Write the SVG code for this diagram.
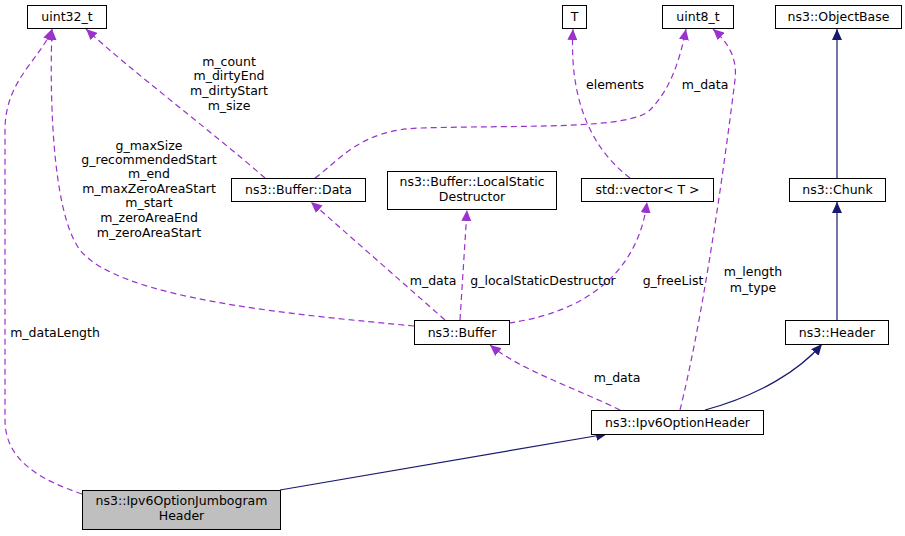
<svg xmlns="http://www.w3.org/2000/svg" width="905" height="536" viewBox="0 0 905 536">
<style>
text{font-family:"DejaVu Sans",sans-serif;font-size:12.5px;fill:#000}
.n{fill:#fff;stroke:#000;stroke-width:1}
.g{fill:#bfbfbf;stroke:#000;stroke-width:1}
.s{fill:none;stroke:#191970;stroke-width:1.2}
.d{fill:none;stroke:#9a32cd;stroke-width:1.2;stroke-dasharray:6,4}
</style>
<defs>
<marker id="an" markerWidth="12" markerHeight="10" refX="11" refY="5" orient="auto" markerUnits="userSpaceOnUse"><path d="M0,0L11,5L0,10z" fill="#191970"/></marker>
<marker id="ap" markerWidth="12" markerHeight="10" refX="11" refY="5" orient="auto" markerUnits="userSpaceOnUse"><path d="M0,0L11,5L0,10z" fill="#9a32cd"/></marker>
</defs>
<g id="edges">
<path class="s" marker-end="url(#an)" d="M280,490L607,434"/>
<path class="s" marker-end="url(#an)" d="M705,410C760,395 800,370 822,344"/>
<path class="s" marker-end="url(#an)" d="M837,320L837,202"/>
<path class="s" marker-end="url(#an)" d="M837,178L837,29"/>
<path class="d" marker-end="url(#ap)" d="M82,494C40,480 5,460 5,420L5,130C5,80 40,60 52,29"/>
<path class="d" marker-end="url(#ap)" d="M414,326C300,315 120,300 80,250C50,210 50,80 52,29"/>
<path class="d" marker-end="url(#ap)" d="M265,178C210,130 130,70 86,29"/>
<path class="d" marker-end="url(#ap)" d="M315,178C340,160 360,130 420,128C520,125 630,130 650,110C670,90 680,60 686,29"/>
<path class="d" marker-end="url(#ap)" d="M445,320L311,202"/>
<path class="d" marker-end="url(#ap)" d="M460,320L467,210"/>
<path class="d" marker-end="url(#ap)" d="M509,323C600,310 640,260 647,202"/>
<path class="d" marker-end="url(#ap)" d="M630,178C580,140 570,80 573,29"/>
<path class="d" marker-end="url(#ap)" d="M620,410C580,390 520,370 490,345"/>
<path class="d" marker-end="url(#ap)" d="M680,410C700,330 720,200 735,80C738,55 725,40 713,29"/>
<text x="55" y="337" text-anchor="middle">m_dataLength</text>
<text x="149" y="150" text-anchor="middle">g_maxSize</text>
<text x="149" y="164" text-anchor="middle">g_recommendedStart</text>
<text x="149" y="178" text-anchor="middle">m_end</text>
<text x="149" y="193" text-anchor="middle">m_maxZeroAreaStart</text>
<text x="149" y="207" text-anchor="middle">m_start</text>
<text x="149" y="222" text-anchor="middle">m_zeroAreaEnd</text>
<text x="149" y="237" text-anchor="middle">m_zeroAreaStart</text>
<text x="229" y="66" text-anchor="middle">m_count</text>
<text x="229" y="80" text-anchor="middle">m_dirtyEnd</text>
<text x="229" y="95" text-anchor="middle">m_dirtyStart</text>
<text x="229" y="110" text-anchor="middle">m_size</text>
<text x="705" y="89" text-anchor="middle">m_data</text>
<text x="615" y="89" text-anchor="middle">elements</text>
<text x="433" y="285" text-anchor="middle">m_data</text>
<text x="543" y="285" text-anchor="middle">g_localStaticDestructor</text>
<text x="673" y="285" text-anchor="middle">g_freeList</text>
<text x="617" y="382" text-anchor="middle">m_data</text>
<text x="753" y="276" text-anchor="middle">m_length</text>
<text x="753" y="292" text-anchor="middle">m_type</text>
</g>
<g id="uint32"><rect class="n" x="27.5" y="5.5" width="79" height="23"/><text x="67" y="21" text-anchor="middle">uint32_t</text></g>
<g id="T"><rect class="n" x="562.5" y="5.5" width="24" height="23"/><text x="574.5" y="21" text-anchor="middle">T</text></g>
<g id="uint8"><rect class="n" x="662.5" y="5.5" width="71" height="23"/><text x="698" y="21" text-anchor="middle">uint8_t</text></g>
<g id="objectbase"><rect class="n" x="775.5" y="5.5" width="126" height="23"/><text x="838.5" y="21" text-anchor="middle">ns3::ObjectBase</text></g>
<g id="data"><rect class="n" x="231.5" y="178.5" width="134" height="23"/><text x="298.5" y="194" text-anchor="middle">ns3::Buffer::Data</text></g>
<g id="lsd"><rect class="n" x="387.5" y="171.5" width="169" height="38"/><text x="472" y="186" text-anchor="middle">ns3::Buffer::LocalStatic</text><text x="472" y="201" text-anchor="middle">Destructor</text></g>
<g id="vector"><rect class="n" x="581.5" y="178.5" width="132" height="23"/><text x="647.5" y="194" text-anchor="middle">std::vector&lt; T &gt;</text></g>
<g id="chunk"><rect class="n" x="789.5" y="178.5" width="96" height="23"/><text x="837.5" y="194" text-anchor="middle">ns3::Chunk</text></g>
<g id="buffer"><rect class="n" x="414.5" y="320.5" width="95" height="24"/><text x="462" y="337" text-anchor="middle">ns3::Buffer</text></g>
<g id="header"><rect class="n" x="785.5" y="320.5" width="103" height="24"/><text x="837" y="337" text-anchor="middle">ns3::Header</text></g>
<g id="ipv6opt"><rect class="n" x="591.5" y="410.5" width="172" height="24"/><text x="677.5" y="427" text-anchor="middle">ns3::Ipv6OptionHeader</text></g>
<g id="jumbo"><rect class="g" x="82.5" y="490.5" width="198" height="39"/><text x="181.5" y="505" text-anchor="middle">ns3::Ipv6OptionJumbogram</text><text x="181.5" y="520" text-anchor="middle">Header</text></g>
</svg>
